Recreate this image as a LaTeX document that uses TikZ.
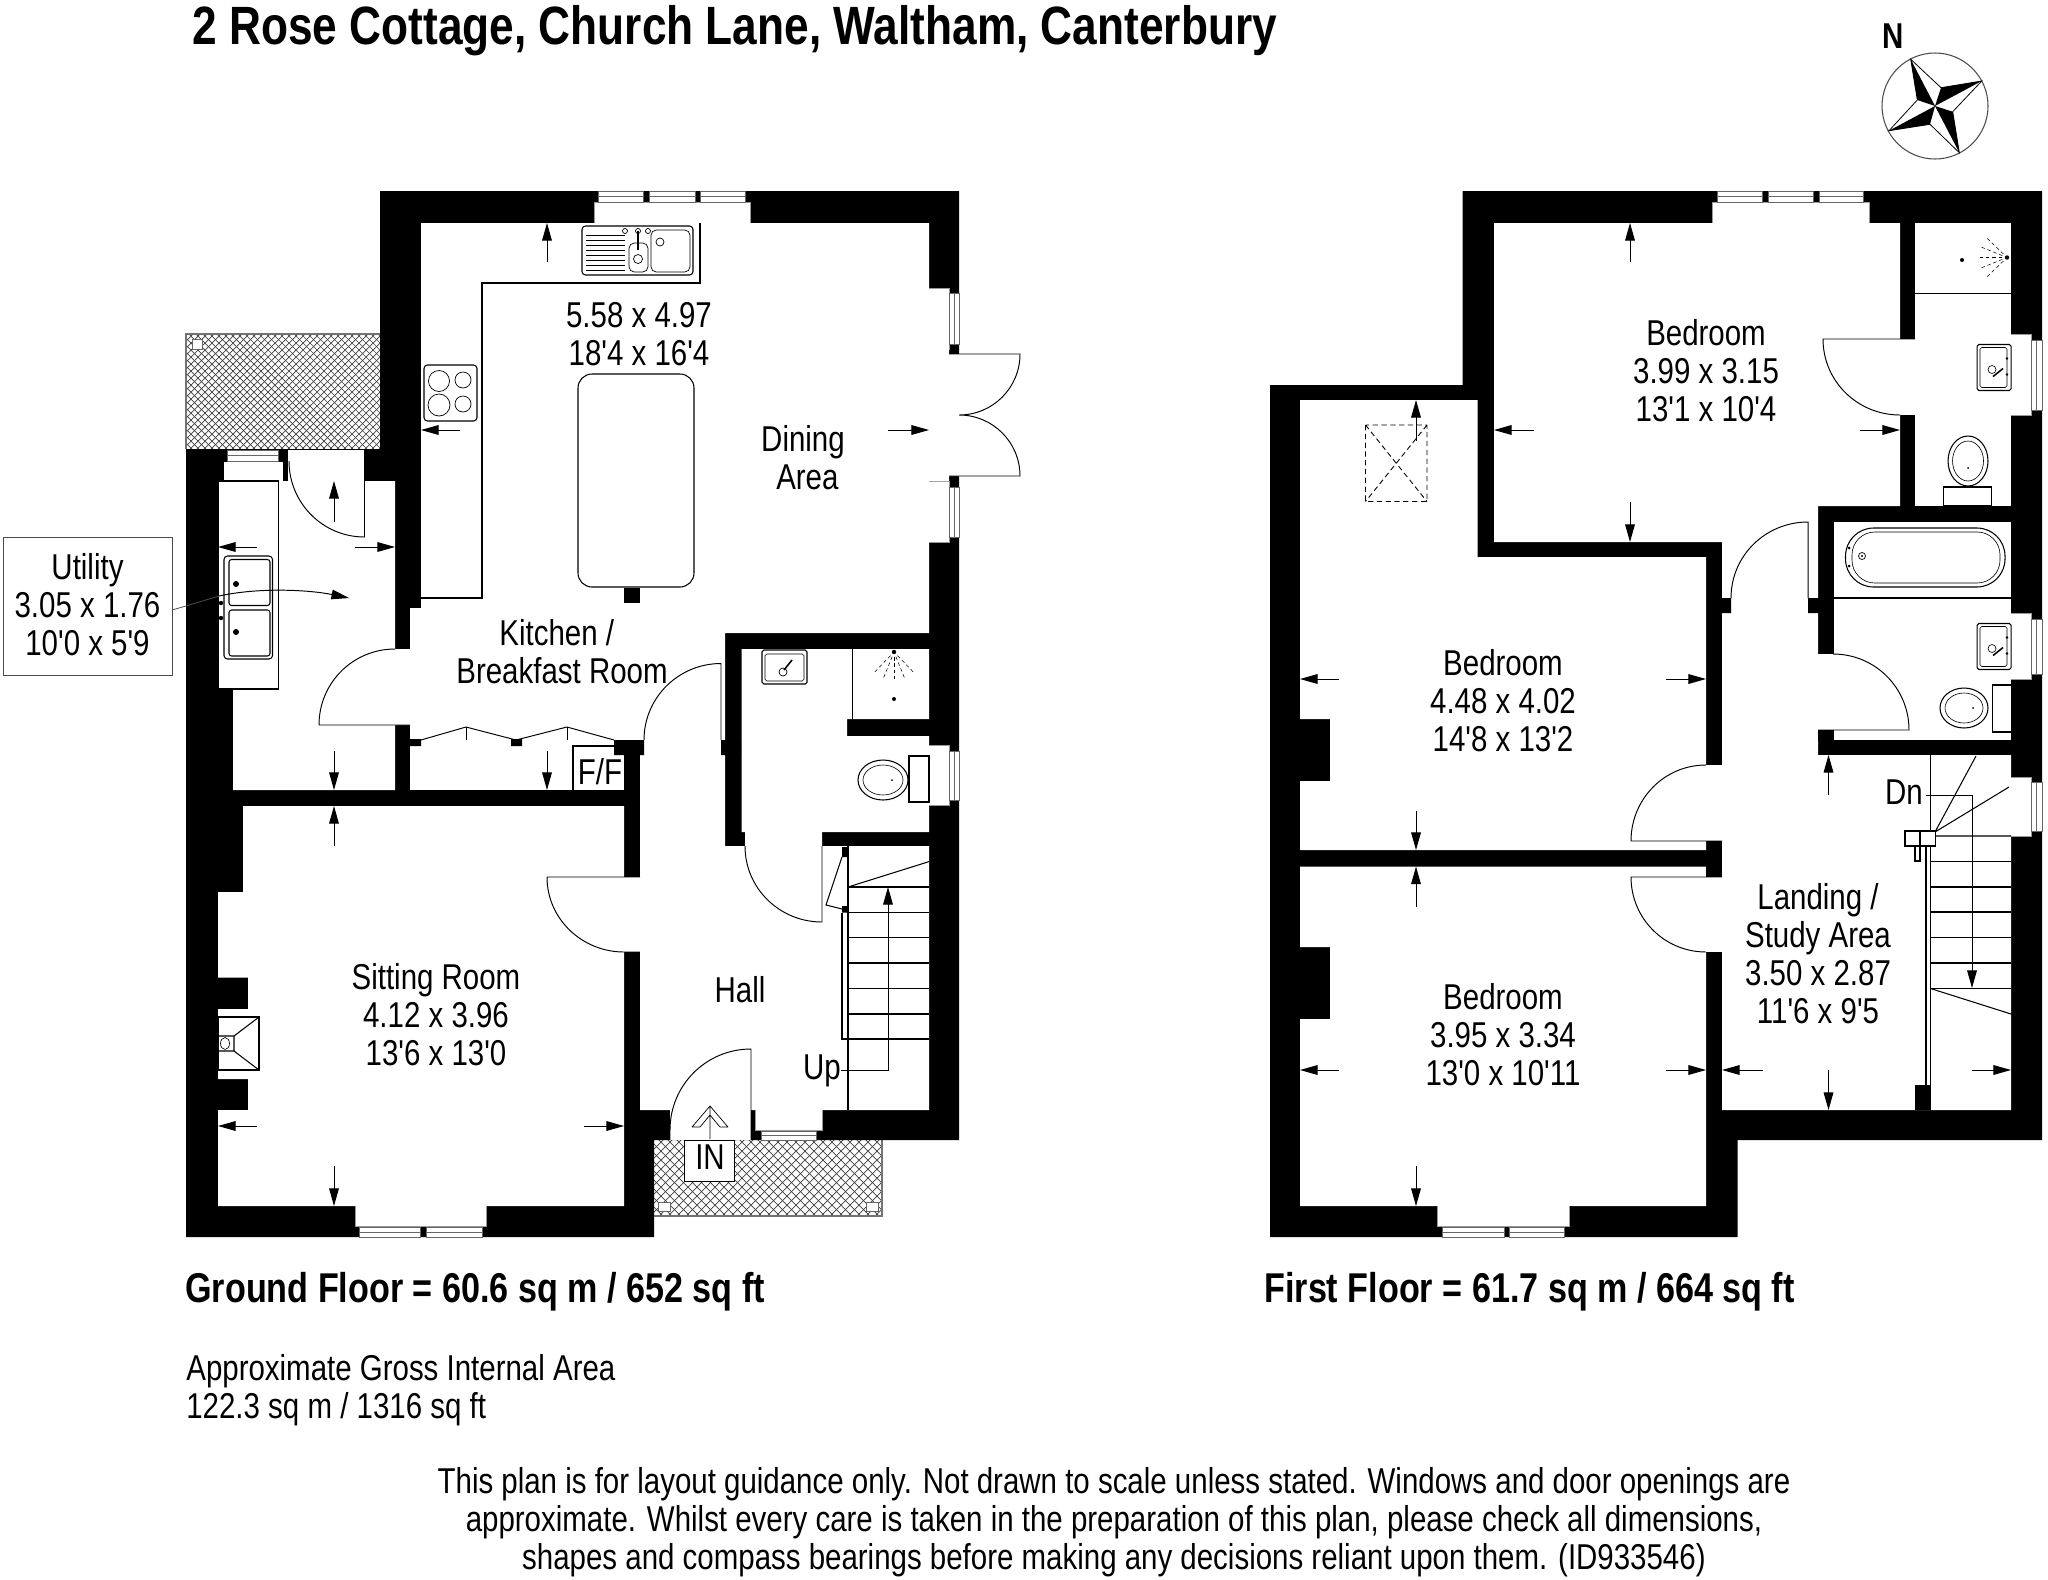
\documentclass[tikz,border=0pt]{standalone}
\usepackage{fontspec}
\usetikzlibrary{arrows.meta}
\newfontfamily\planfont[FakeStretch=0.82]{Liberation Sans}
\tikzset{
  thinline/.style={draw=black,line width=0.6pt},
  doorline/.style={draw=black,line width=0.55pt},
  greyline/.style={draw=black!55,line width=0.6pt},
  voidw/.style={fill=white,draw=none},
  pane/.style={fill=white,draw=black!60,line width=0.4pt},
  recess/.style={fill=white,draw=black!40,line width=0.3pt},
  dimarrow/.style={draw=black,line width=0.55pt,-{Triangle[length=10pt,width=5.5pt]}},
  label/.style={font=\planfont\fontsize{20.45}{21.6}\selectfont,align=center,inner sep=0pt},
  leftlabel/.style={font=\planfont\fontsize{20.45}{21.6}\selectfont,align=left,inner sep=0pt,anchor=west},
  headline/.style={font=\planfont\bfseries\fontsize{23.7}{26}\selectfont,inner sep=0pt,anchor=west},
  hatchline/.style={draw=black!75,line width=0.4pt},
}
% horizontal window pane: x1 x2 y1 y2
\newcommand\hpane[4]{\draw[pane] (#1,#3) rectangle (#2,#4); \draw[pane] (#1,{(#3+#4)/2}) -- (#2,{(#3+#4)/2});}
% vertical window pane: x1 x2 y1 y2
\newcommand\vpane[4]{\draw[pane] (#1,#3) rectangle (#2,#4); \draw[pane] ({(#1+#2)/2},#3) -- ({(#1+#2)/2},#4);}
% basin against a right-hand wall: left x, top y
\newcommand\wallbasin[2]{%
  \draw[thinline,rounded corners=1pt] (#1,#2) rectangle ++(34,46);
  \draw[thinline,line width=0.35pt,rounded corners=1pt] ({#1+3},{#2+3}) rectangle ++(27,40);
  \draw[thinline,line width=0.35pt] ({#1+15},{#2+25}) circle (4);
  \draw[thinline,line width=0.9pt] ({#1+16},{#2+32}) -- ({#1+26},{#2+24});
  \fill ({#1+30},{#2+14}) circle (1.4) ({#1+30},{#2+30}) circle (1.4);
}
% shower: head x y, direction
\newcommand\showerspray[3]{%
  \foreach \a in {-44,-22,0,22,44}{
    \draw[black,line width=0.3pt,dash pattern=on 2pt off 1.6pt] (#1,#2) ++({#3+\a}:1mm) -- ++({#3+\a}:4.6mm);
  }
  \fill (#1,#2) circle (2.2);
}
\begin{document}
\begin{tikzpicture}[x=0.02cm,y=-0.02cm]
\useasboundingbox (0,0) rectangle (2048,1579);
\fill[white] (0,0) rectangle (2048,1579);

%%%%%%%%%%%%%%%%%%%% hatched terraces
\begin{scope}
\clip (186,334) rectangle (380,450);
\foreach \c in {520,527,...,832}{\draw[hatchline] ({\c-300},300) -- ({\c-500},500);}
\foreach \c in {-264,-257,...,48}{\draw[hatchline] ({\c+300},300) -- ({\c+500},500);}
\end{scope}
\draw[greyline] (186,449) -- (186,334) -- (380,334);
\draw[pane] (192,339) rectangle (202,349);
\begin{scope}
\clip (654,1140) rectangle (882,1216);
\foreach \c in {1794,1803,...,2101}{\draw[hatchline] ({\c-1100},1100) -- ({\c-1300},1300);}
\foreach \c in {-562,-553,...,-254}{\draw[hatchline] ({\c+1100},1100) -- ({\c+1300},1300);}
\end{scope}
\draw[greyline] (654,1216) -- (882,1216) -- (882,1140);
\draw[pane] (658,1202) rectangle (670,1211);
\draw[pane] (866,1202) rectangle (878,1211);

%%%%%%%%%%%%%%%%%%%% ground floor walls
\fill[black] (380,191) -- (959,191) -- (959,1140) -- (654,1140) -- (654,1237) -- (186,1237) -- (186,449) -- (380,449) -- cycle;
% kitchen + hall + stairs
\fill[voidw] (421,223) -- (929,223) -- (929,633) -- (725,633) -- (725,846) -- (745,846) -- (745,831) -- (822,831) -- (822,846) -- (929,846) -- (929,1110) -- (640,1110) -- (640,755) -- (644,755) -- (644,740) -- (410,740) -- (410,608) -- (421,608) -- cycle;
% WC
\fill[voidw] (741.5,649) -- (929,649) -- (929,719) -- (847,719) -- (847,736) -- (929,736) -- (929,832) -- (741.5,832) -- cycle;
% utility
\fill[voidw] (218,481) -- (288,481) -- (288,449) -- (364.5,449) -- (364.5,481) -- (395,481) -- (395,649) -- (410,649) -- (410,725) -- (395,725) -- (395,790) -- (233,790) -- (233,689) -- (218,689) -- cycle;
% cupboard
\fill[voidw] (410,739) rectangle (624,790);
\fill[black] (410,739) rectangle (421,746) (511,739) rectangle (522,746) (614,740) rectangle (644,755) (721,740) rectangle (741,755);
% sitting room
\fill[voidw] (243,806) -- (624,806) -- (624,1206) -- (218,1206) -- (218,1110) -- (248,1110) -- (248,1079) -- (218,1079) -- (218,1009) -- (248,1009) -- (248,977.5) -- (218,977.5) -- (218,892) -- (243,892) -- cycle;
\fill[voidw] (624,877) rectangle (641,952);
% entrance opening
\fill[voidw] (670,1109) rectangle (751,1140);
% windows
\fill[voidw] (594,202) rectangle (750,224);
\draw[recess] (594,223) -- (594,202) -- (750,202) -- (750,223);
\hpane{598.5}{643.5}{191}{202}\hpane{649.5}{695}{191}{202}\hpane{700.5}{745.5}{191}{202}
\fill[voidw] (928,288) rectangle (949,349);
\draw[recess] (929,288) -- (949,288) -- (949,349) -- (929,349);
\vpane{949}{959}{293}{344}
\fill[voidw] (928,481) rectangle (949,542);
\draw[recess] (929,481) -- (949,481) -- (949,542) -- (929,542);
\vpane{949}{959}{487}{537}
\fill[voidw] (928,349) rectangle (949,481) (949,354) rectangle (960,476);
\fill[voidw] (928,745) rectangle (949,805);
\draw[recess] (929,745) -- (949,745) -- (949,805) -- (929,805);
\vpane{949}{959}{751}{800}
\fill[voidw] (355,1205) rectangle (486,1226);
\draw[recess] (355,1206) -- (355,1226) -- (486,1226) -- (486,1206);
\hpane{359}{420}{1227}{1237}\hpane{426}{482}{1227}{1237}
\fill[voidw] (755,1109) rectangle (822,1130);
\draw[recess] (755,1110) -- (755,1130) -- (822,1130) -- (822,1110);
\hpane{761}{816}{1131}{1140}
\fill[voidw] (223,461.5) rectangle (283.4,482);
\draw[thinline] (223,481) -- (223,461.5) -- (283.4,461.5) -- (283.4,481);
\hpane{227.5}{278}{450}{461}
\draw[thinline] (186,449.5) -- (380,449.5);

% doors
\draw[doorline] (319,725) -- (410,725) (319,725) to[out=90,in=180] (395,649);
\draw[doorline] (644,740) to[out=90,in=180] (721,663.5) -- (721,740);
\draw[doorline] (547,877) -- (640,877) (547,877) to[out=-90,in=180] (624,952) -- (640,952);
\draw[doorline] (745,846) to[out=-90,in=180] (822,922) -- (822,846);
\draw[doorline] (751,1140) -- (751,1049) to[out=180,in=90] (670,1130) -- (670,1140);
\draw[doorline] (949,354) -- (1020,354) to[out=-90,in=0] (959,415) to[out=0,in=90] (1020,476) -- (949,476);
\draw[doorline] (364.5,449) -- (364.5,537) to[out=180,in=-90] (289,461);
\draw[doorline] (421,740) -- (466,727) -- (516,740) (516,740) -- (567,727) -- (614,740);
\draw[doorline] (466,727) -- (466,740) (567,727) -- (567,740);

% utility fittings
\draw[thinline,fill=white] (218,481) rectangle (278.5,689);
\draw[thinline,rounded corners=2pt] (224,556) rectangle (272.5,659);
\draw[thinline,rounded corners=1.5pt] (229,559.5) rectangle (270,605.5) (229,610) rectangle (270,656);
\fill (236,584) circle (3) (236,632) circle (3) (221,603) circle (2.2) (221,618) circle (2.2);
% kitchen worktop
\draw[thinline] (421,598) -- (482,598) -- (482,283) -- (700,283) -- (700,223);
% kitchen sink
\draw[thinline,rounded corners=2pt] (582,226) rectangle (693,275);
\draw[thinline,line width=.4pt,rounded corners=3pt] (629,243) rectangle (648,272) (651,230) rectangle (690,272);
\foreach \y in {235,240,...,270}{\draw[thinline,line width=.35pt] (586,\y) -- (625,\y);}
\draw[thinline,line width=.4pt] (638,259) circle (4.5) (660,242) circle (4);
\draw[thinline,line width=1pt] (638,231) -- (638,250);
\draw[thinline,line width=.4pt] (625,231) circle (2.5) (648,231) circle (2.5) (638,231) circle (2.5);
% hob
\draw[thinline,rounded corners=2pt] (424,365) rectangle (477,421);
\draw[thinline,line width=.4pt] (439,381) circle (10.5) (463,380) circle (8) (439,405) circle (11) (463,404) circle (8);
% island
\draw[thinline,rounded corners=8pt] (578,374) rectangle (694,587);
\fill (624,588) rectangle (640,603);
% F/F
\draw[thinline] (573,790) -- (573,746) -- (624,746);
% WC fittings
\draw[thinline,line width=.45pt] (852,649) -- (852,719);
\draw[thinline,rounded corners=1pt] (762,650) rectangle (807,684);
\draw[thinline,line width=.35pt,rounded corners=1pt] (765,654) rectangle (804,681);
\draw[thinline,line width=.4pt] (783,672) circle (4);
\draw[thinline,line width=.9pt] (784,670) -- (792,660);
\showerspray{894}{652}{-90}
\fill (894,699) circle (2);
\draw[thinline,fill=white] (909,756) rectangle (929,802);
\draw[thinline,fill=white] (883,780) ellipse (25 and 20);
\draw[thinline,line width=.35pt] (883,780) ellipse (20 and 15);
\fill (892,780) circle (1);
% fire place
\draw[thinline,fill=white] (218,1017) rectangle (259,1070);
\draw[thinline] (218,1036) rectangle (234,1051) (234,1036) -- (259,1017) (234,1051) -- (259,1070);
\draw[thinline,line width=.35pt] (225,1043.5) ellipse (4.5 and 6);
% stairs
\draw[thinline] (848,846) -- (848,1110);
\fill (842,847) rectangle (848,857) (842,906) rectangle (848,912.5);
\draw[thinline] (842,912.5) -- (842,1039) -- (848,1039);
\draw[thinline] (842,857) -- (826,905) -- (842,909);
\draw[thinline] (848,887) -- (929,861.6);
\foreach \y in {887,912.5,937.5,963,988.5,1014,1039}{\draw[thinline] (848,\y) -- (929,\y);}
\draw[dimarrow] (841,1070) -- (888,1070) -- (888,887);
% porch box
\draw[thinline,line width=.45pt,fill=white] (684,1140) rectangle (734,1181);
\draw[thinline,line width=.4pt] (710,1139) -- (710,1107) (692,1127) -- (710,1106) -- (728,1127) (700,1127) -- (710,1115) -- (720,1127) (692,1127) -- (700,1127) (720,1127) -- (728,1127);

% dimension arrows, ground floor
\draw[dimarrow] (547,262) -- (547,223);
\draw[dimarrow] (460,430) -- (421,430);
\draw[dimarrow] (888,430) -- (929,430);
\draw[dimarrow] (547,751) -- (547,790);
\draw[dimarrow] (334,522) -- (334,481);
\draw[dimarrow] (257,547) -- (218,547);
\draw[dimarrow] (355,547) -- (395,547);
\draw[dimarrow] (334,751) -- (334,790);
\draw[dimarrow] (334,846) -- (334,806);
\draw[dimarrow] (334,1166) -- (334,1206);
\draw[dimarrow] (257,1126) -- (218,1126);
\draw[dimarrow] (584,1126) -- (624,1126);

%%%%%%%%%%%%%%%%%%%% first floor walls
\fill[black] (1462.5,191) -- (2042,191) -- (2042,1140) -- (1737.5,1140) -- (1737.5,1237) -- (1270,1237) -- (1270,385) -- (1462.5,385) -- cycle;
% bedroom 1 + landing
\fill[voidw] (1494,223) -- (1900,223) -- (1900,506) -- (1818,506) -- (1818,755) -- (2011,755) -- (2011,1110) -- (1722,1110) -- (1722,542) -- (1494,542) -- cycle;
\fill (1722,598) rectangle (1731,613) (1808,598) rectangle (1819,613);
% en-suite
\fill[voidw] (1915,223) rectangle (2011,506);
\fill[voidw] (1899,339) rectangle (1916,415);
% bathroom
\fill[voidw] (1833.5,522) rectangle (2011,740);
\fill (1818,730) rectangle (1833.5,741);
\fill[voidw] (1817,654) rectangle (1834,730);
% bedroom 2
\fill[voidw] (1300,400) -- (1477.6,400) -- (1477.6,557) -- (1706,557) -- (1706,850) -- (1300,850) -- (1300,781) -- (1330,781) -- (1330,719) -- (1300,719) -- cycle;
\fill[voidw] (1705,765) rectangle (1723,841);
% bedroom 3
\fill[voidw] (1300,866.6) -- (1706,866.6) -- (1706,1206) -- (1300,1206) -- (1300,1019) -- (1330,1019) -- (1330,947) -- (1300,947) -- cycle;
\fill[voidw] (1705,877) rectangle (1723,952);
\fill (1706,850) rectangle (1722,877);
% windows
\fill[voidw] (1712,202) rectangle (1869,224);
\draw[recess] (1712,223) -- (1712,202) -- (1869,202) -- (1869,223);
\hpane{1717}{1762.6}{191}{202}\hpane{1768.6}{1813}{191}{202}\hpane{1819}{1863}{191}{202}
\fill[voidw] (2010,334) rectangle (2031.5,415);
\draw[recess] (2011,334) -- (2031.5,334) -- (2031.5,415) -- (2011,415);
\vpane{2031.5}{2042}{340}{410}
\fill[voidw] (2010,613) rectangle (2031.5,679);
\draw[recess] (2011,613) -- (2031.5,613) -- (2031.5,679) -- (2011,679);
\vpane{2031.5}{2042}{619}{674}
\fill[voidw] (2010,777) rectangle (2031.5,836);
\draw[recess] (2011,777) -- (2031.5,777) -- (2031.5,836) -- (2011,836);
\vpane{2031.5}{2042}{782}{831}
\fill[voidw] (1437.4,1205) rectangle (1569,1226);
\draw[recess] (1437.4,1206) -- (1437.4,1226) -- (1569,1226) -- (1569,1206);
\hpane{1442}{1504}{1227}{1237}\hpane{1509}{1564}{1227}{1237}

% doors
\draw[doorline] (1915,339) -- (1823,339) to[out=-90,in=180] (1900,415);
\draw[doorline] (1731,598) to[out=90,in=180] (1808,522) -- (1808,598);
\draw[doorline] (1833,654) to[out=0,in=90] (1909,730) -- (1818,730);
\draw[doorline] (1722,841) -- (1631,841) to[out=90,in=180] (1706,765);
\draw[doorline] (1722,877) -- (1631,877) to[out=-90,in=180] (1706,952);

% en-suite fittings
\draw[thinline] (1915,293.4) -- (2011,293.4);
\showerspray{2007}{257.5}{180}
\fill (1962,260) circle (2);
\wallbasin{1977}{344.5}
\draw[thinline,fill=white] (1943.5,487) rectangle (1991,506);
\draw[thinline,fill=white] (1968,461) ellipse (20 and 25);
\draw[thinline,line width=.35pt] (1968,461) ellipse (15.5 and 20);
\fill (1968,468) circle (1);
% bathroom fittings
\draw[thinline] (1833.5,598) -- (2011,598);
\draw[thinline,rounded corners=16pt] (1845.5,528) rectangle (2005,587);
\draw[thinline,line width=.35pt,rounded corners=13pt] (1852,532) rectangle (2000,583);
\draw[thinline,line width=.4pt] (1862,556) circle (3.5);
\fill (1862,556) circle (1.2) (1849,548) circle (1.5) (1849,566) circle (1.5);
\wallbasin{1977}{623.5}
\draw[thinline,fill=white] (1992,685) rectangle (2011,732);
\draw[thinline,fill=white] (1964,708) ellipse (24 and 20);
\draw[thinline,line width=.35pt] (1964,708) ellipse (19 and 15);
\fill (1973,708) circle (1);
% skylight
\draw[draw=black,line width=.5pt,dash pattern=on 3pt off 2pt] (1365.5,425) rectangle (1427,501.5) (1365.5,425) -- (1427,501.5) (1427,425) -- (1365.5,501.5);
% stairs
\draw[thinline] (1930.5,755) -- (1930.5,1110);
\draw[thinline,fill=white] (1926,846) rectangle (1930.5,1086);
\fill (1915,1085) rectangle (1930.5,1110);
\draw[thinline,fill=white] (1915,846) rectangle (1920,861);
\draw[thinline,fill=white] (1905,831) rectangle (1935,846);
\draw[thinline] (1920,831) -- (1920,846);
\draw[thinline] (1935,832) -- (1976,756) (1935,832) -- (2009,787) (1935,836) -- (2011,836);
\foreach \y in {861.5,887,912,937.5,963,988.5}{\draw[thinline] (1930.5,\y) -- (2011,\y);}
\draw[thinline] (1930.5,988.5) -- (2011,1014);
\draw[dimarrow] (1926,795) -- (1972,795) -- (1972,988);

% dimension arrows, first floor
\draw[dimarrow] (1630,262) -- (1630,223);
\draw[dimarrow] (1630,502) -- (1630,542);
\draw[dimarrow] (1534,430) -- (1494,430);
\draw[dimarrow] (1860,430) -- (1900,430);
\draw[dimarrow] (1416,441) -- (1416,400);
\draw[dimarrow] (1339,679) -- (1300,679);
\draw[dimarrow] (1666,679) -- (1706,679);
\draw[dimarrow] (1416,811) -- (1416,850);
\draw[dimarrow] (1416,907) -- (1416,866.6);
\draw[dimarrow] (1416,1166) -- (1416,1206);
\draw[dimarrow] (1339,1070) -- (1300,1070);
\draw[dimarrow] (1666,1070) -- (1706,1070);
\draw[dimarrow] (1762.6,1070) -- (1722,1070);
\draw[dimarrow] (1828.5,1070) -- (1828.5,1110);
\draw[dimarrow] (1828.5,795) -- (1828.5,755);
\draw[dimarrow] (1972,1070) -- (2011,1070);

%%%%%%%%%%%%%%%%%%%% compass
\draw[black!70,line width=.6pt] (1935,106) circle (53);
\coordinate (cc) at (1935,106);
\draw[thinline,line width=.45pt] (1910.7,59.3) -- (1941,87.7) -- (1981.7,81) -- (1952.7,111.7) -- (1959.3,152.7) -- (1930,124.3) -- (1889,130.7) -- (1917.3,100) -- cycle;
\fill (1910.7,59.3) -- (1917.3,100) -- (cc) -- cycle;
\fill (1981.7,81) -- (1941,87.7) -- (cc) -- cycle;
\fill (1959.3,152.7) -- (1952.7,111.7) -- (cc) -- cycle;
\fill (1889,130.7) -- (1930,124.3) -- (cc) -- cycle;

%%%%%%%%%%%%%%%%%%%% callout
\draw[draw=black!70,line width=.45pt,fill=white] (3,537) rectangle (172,675);
\node[label] (utility) at (87.5,605) {Utility\\3.05 x 1.76\\10'0 x 5'9};
\coordinate (calloutstart) at (172,610);
\coordinate (calloutfree) at (219,596);
\draw[draw=black!70,line width=.45pt] (calloutstart) -- (186,606) -- (calloutfree);
\draw[dimarrow] (calloutfree) .. controls (260,587) and (310,590) .. (349,598);

%%%%%%%%%%%%%%%%%%%% text
\node[headline,font=\planfont\bfseries\fontsize{30.7}{33}\selectfont] (title) at (192,31) {2 Rose Cottage, Church Lane, Waltham, Canterbury};
\node[label,font=\planfont\bfseries\fontsize{20.45}{21.6}\selectfont] (north) at (1893,36) {N};
\node[label] (kitchendim) at (639,334) {5.58 x 4.97\\18'4 x 16'4};
\node[label] (dining) at (803,458) {Dining\\\hspace*{5pt}Area};
\node[label] (kitchen) at (562,652) {Kitchen /\hspace*{6pt}\\Breakfast Room};
\node[label] (ff) at (600,772) {F/F};
\node[label] (sitting) at (436,1015) {Sitting Room\\4.12 x 3.96\\13'6 x 13'0};
\node[label] (hall) at (740,990) {Hall};
\node[label] (up) at (822,1071) {Up};
\node[label] (in) at (710,1157) {IN};
\node[label] (bed1) at (1706,371) {Bedroom\\3.99 x 3.15\\13'1 x 10'4};
\node[label] (bed2) at (1503,701) {Bedroom\\4.48 x 4.02\\14'8 x 13'2};
\node[label] (bed3) at (1503,1035) {Bedroom\\3.95 x 3.34\\13'0 x 10'11};
\node[label] (landing) at (1818,954) {Landing /\\Study Area\\3.50 x 2.87\\11'6 x 9'5};
\node[label] (dn) at (1904,792) {Dn};
\node[headline] (groundtotal) at (185,1292) {Ground Floor = 60.6 sq m / 652 sq ft};
\node[headline] (firsttotal) at (1264,1292) {First Floor = 61.7 sq m / 664 sq ft};
\node[leftlabel] (gross) at (186,1390) {Approximate Gross Internal Area\\122.3 sq m / 1316 sq ft};
\node[label] (notice) at (1114,1522) {This plan is for layout guidance only. Not drawn to scale unless stated. Windows and door openings are\\approximate. Whilst every care is taken in the preparation of this plan, please check all dimensions,\\shapes and compass bearings before making any decisions reliant upon them. (ID933546)};
\end{tikzpicture}
\end{document}
